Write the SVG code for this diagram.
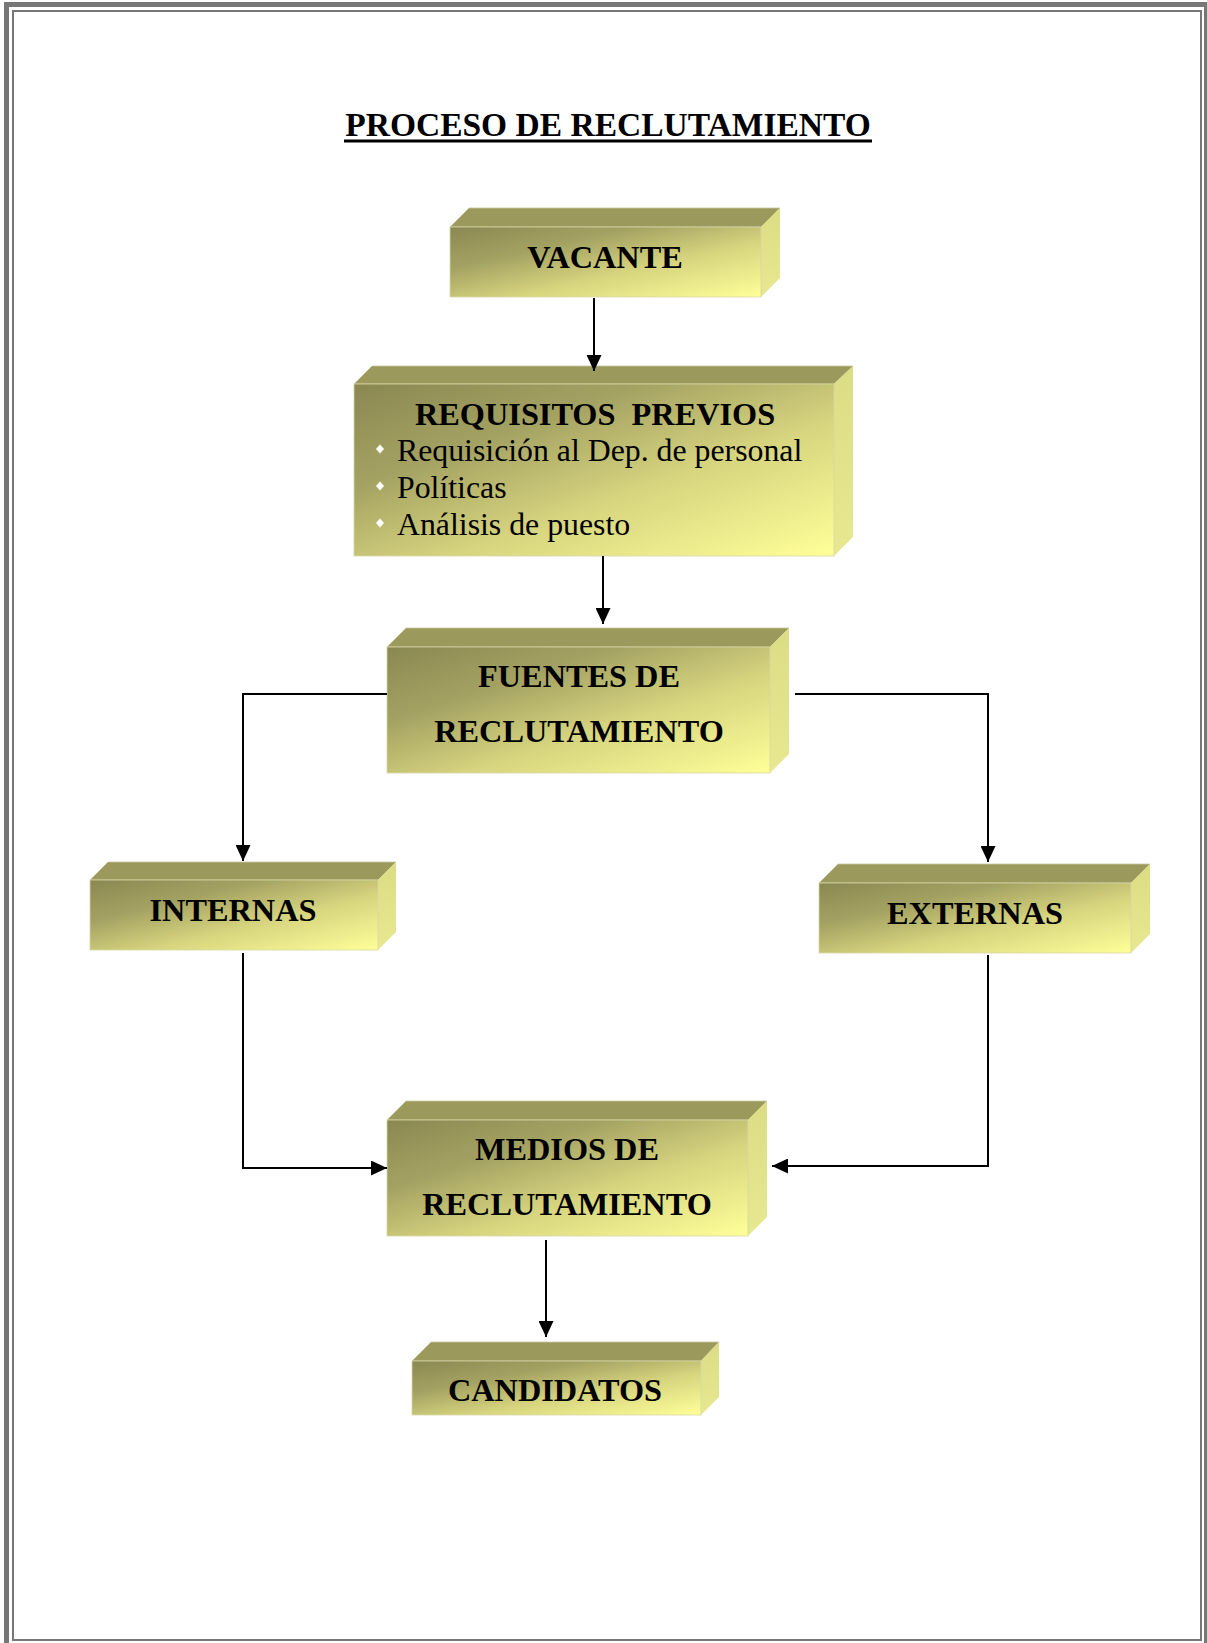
<svg xmlns="http://www.w3.org/2000/svg" width="1207" height="1643" viewBox="0 0 1207 1643">
  <style>
    .frame-outer { fill: none; stroke: #777777; stroke-width: 5; }
    .frame-inner { fill: none; stroke: #777777; stroke-width: 2; }
    .title { font-family: "Liberation Serif", "Times New Roman", serif; font-weight: bold; font-size: 33.5px; fill: #000; }
    .lbl { font-family: "Liberation Serif", "Times New Roman", serif; font-weight: bold; font-size: 32.3px; fill: #000; text-anchor: middle; }
    .item { font-family: "Liberation Serif", "Times New Roman", serif; font-size: 31.8px; fill: #000; }
    .front { fill: url(#faceGrad); stroke: #d8d8a8; stroke-width: 0.8; }
    .top { fill: #9b995c; stroke: #c9c8a0; stroke-width: 0.8; }
    .side { fill: url(#sideGrad); }
    .bullet { fill: #ffffff; stroke: #d8d8b8; stroke-width: 0.4; }
    .wire { fill: none; stroke: #000; stroke-width: 2; }
  </style>
  <defs>
    <linearGradient id="faceGrad" x1="0" y1="0" x2="1" y2="1">
      <stop offset="0" stop-color="#8a8852"/>
      <stop offset="0.3" stop-color="#a4a262"/>
      <stop offset="0.6" stop-color="#d6d47e"/>
      <stop offset="1" stop-color="#ffff99"/>
    </linearGradient>
    <linearGradient id="sideGrad" x1="0" y1="0" x2="0" y2="1">
      <stop offset="0" stop-color="#dcdc84"/>
      <stop offset="1" stop-color="#e8e890"/>
    </linearGradient>
    <marker id="arrow" markerUnits="userSpaceOnUse" markerWidth="16" markerHeight="15" refX="16" refY="7.5" orient="auto">
      <path d="M0,0 L16,7.5 L0,15 Z" fill="#000"/>
    </marker>
  </defs>

  <!-- page frame -->
  <rect class="frame-outer" x="6.5" y="4.5" width="1200" height="1645"/>
  <rect class="frame-inner" x="13" y="11" width="1188" height="1629"/>

  <!-- heading -->
  <g id="title">
    <text class="title" x="608" y="136" text-anchor="middle">PROCESO DE RECLUTAMIENTO</text>
    <rect x="344" y="139.5" width="528" height="3" fill="#000"/>
  </g>

  <!-- VACANTE -->
  <g id="vacante">
    <polygon class="top" points="450,227 469,208 780,208 761,227"/>
    <polygon class="side" points="761,227 780,208 780,278 761,297"/>
    <rect class="front" x="450" y="227" width="311" height="70"/>
    <text class="lbl" x="605" y="268">VACANTE</text>
  </g>

  <!-- REQUISITOS PREVIOS -->
  <g id="requisitos">
    <polygon class="top" points="354,384 372,366 853,366 834,384"/>
    <polygon class="side" points="834,384 853,366 853,537 834,556"/>
    <rect class="front" x="354" y="384" width="480" height="172"/>
    <text class="lbl" x="415" y="425" xml:space="preserve" style="text-anchor:start">REQUISITOS  PREVIOS</text>
    <polygon class="bullet" points="380,444.5 384,449 380,453.5 376,449"/>
    <text class="item" x="397" y="461">Requisición al Dep. de personal</text>
    <polygon class="bullet" points="380,481.5 384,486 380,490.5 376,486"/>
    <text class="item" x="397" y="498">Políticas</text>
    <polygon class="bullet" points="380,518.5 384,523 380,527.5 376,523"/>
    <text class="item" x="397" y="535">Análisis de puesto</text>
  </g>

  <!-- FUENTES DE RECLUTAMIENTO -->
  <g id="fuentes">
    <polygon class="top" points="387,647 406,628 789,628 770,647"/>
    <polygon class="side" points="770,647 789,628 789,754 770,773"/>
    <rect class="front" x="387" y="647" width="383" height="126"/>
    <text class="lbl" x="579" y="687">FUENTES DE</text>
    <text class="lbl" x="579" y="742">RECLUTAMIENTO</text>
  </g>

  <!-- INTERNAS -->
  <g id="internas">
    <polygon class="top" points="90,880 108,862 396,862 378,880"/>
    <polygon class="side" points="378,880 396,862 396,932 378,950"/>
    <rect class="front" x="90" y="880" width="288" height="70"/>
    <text class="lbl" x="233" y="921">INTERNAS</text>
  </g>

  <!-- EXTERNAS -->
  <g id="externas">
    <polygon class="top" points="819,883 838,864 1150,864 1131,883"/>
    <polygon class="side" points="1131,883 1150,864 1150,934 1131,953"/>
    <rect class="front" x="819" y="883" width="312" height="70"/>
    <text class="lbl" x="975" y="924">EXTERNAS</text>
  </g>

  <!-- MEDIOS DE RECLUTAMIENTO -->
  <g id="medios">
    <polygon class="top" points="387,1120 406,1101 767,1101 748,1120"/>
    <polygon class="side" points="748,1120 767,1101 767,1217 748,1236"/>
    <rect class="front" x="387" y="1120" width="361" height="116"/>
    <text class="lbl" x="567" y="1160">MEDIOS DE</text>
    <text class="lbl" x="567" y="1215">RECLUTAMIENTO</text>
  </g>

  <!-- CANDIDATOS -->
  <g id="candidatos">
    <polygon class="top" points="412,1361 431,1342 719,1342 701,1361"/>
    <polygon class="side" points="701,1361 719,1342 719,1397 701,1415"/>
    <rect class="front" x="412" y="1361" width="289" height="54"/>
    <text class="lbl" x="555" y="1401">CANDIDATOS</text>
  </g>

  <!-- connectors, drawn last so arrowheads sit over the box tops -->
  <g id="connectors">
    <line class="wire" x1="594" y1="298" x2="594" y2="371" marker-end="url(#arrow)"/>
    <line class="wire" x1="603" y1="556" x2="603" y2="624" marker-end="url(#arrow)"/>
    <polyline class="wire" points="387,694 243,694 243,861" marker-end="url(#arrow)"/>
    <polyline class="wire" points="795,694 988,694 988,862" marker-end="url(#arrow)"/>
    <polyline class="wire" points="243,953 243,1168 387,1168" marker-end="url(#arrow)"/>
    <polyline class="wire" points="988,955 988,1166 772,1166" marker-end="url(#arrow)"/>
    <line class="wire" x1="546" y1="1240" x2="546" y2="1337" marker-end="url(#arrow)"/>
  </g>
</svg>
